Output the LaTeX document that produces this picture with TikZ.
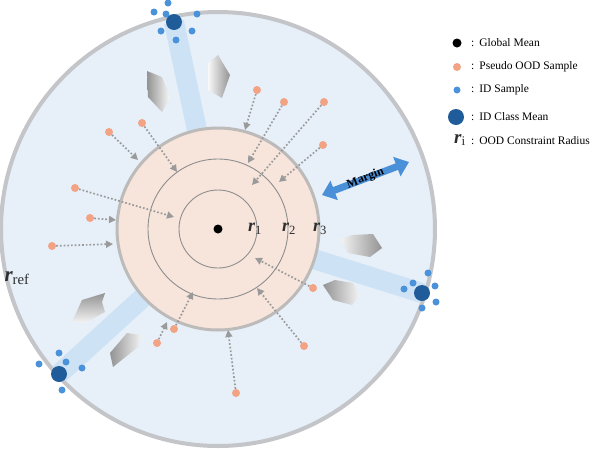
\documentclass[tikz,border=0pt]{standalone}
\usepackage{fontspec}
\setmainfont{Liberation Serif}
\usepackage{tikz}
\usetikzlibrary{arrows.meta, positioning, calc}
\definecolor{outerfill}{HTML}{E7EFF9}
\definecolor{outerline}{HTML}{C3C5C8}
\definecolor{innerfill}{HTML}{F7E5DC}
\definecolor{innerline}{HTML}{BDBBBA}
\definecolor{ringgray}{HTML}{8E8E8E}
\definecolor{oodorange}{HTML}{F2A383}
\definecolor{idblue}{HTML}{4A93DB}
\definecolor{meanblue}{HTML}{1F5C99}
\definecolor{beamblue}{HTML}{BCDCF3}
\definecolor{arrowgray}{HTML}{9A9A9A}
\definecolor{labelgray}{HTML}{2E2E2E}
\definecolor{marginblue}{HTML}{4A90D9}
\tikzstyle{ood} = [circle, fill=oodorange, inner sep=0pt, minimum size=8pt]
\tikzstyle{idsample} = [circle, fill=idblue, inner sep=0pt, minimum size=7pt]
\tikzstyle{idmean} = [circle, fill=meanblue, inner sep=0pt, minimum size=16pt]
\tikzstyle{gmean} = [circle, fill=black, inner sep=0pt, minimum size=9pt]
\tikzstyle{pull} = [arrowgray, dotted, line width=1.7pt, -{Triangle[length=7pt, width=7pt]}]
\tikzstyle{beam} = [beamblue, line width=20pt, opacity=0.6]
\tikzstyle{ring} = [ringgray, line width=0.9pt]
\tikzstyle{legendtext} = [anchor=west, inner sep=0pt, font=\fontsize{11.5}{13}\selectfont]
\tikzstyle{radlabel} = [text=labelgray, inner sep=0pt, font=\fontsize{18}{18}\selectfont\bfseries\itshape]

\begin{document}
\begin{tikzpicture}[x=1pt, y=-1pt]
    \fill[white] (0,0) rectangle (598,448);
    \useasboundingbox (0,0) rectangle (598,448);

    \coordinate (c) at (218,229);
    \fill[outerfill] (c) circle[radius=217pt];
    \draw[outerline, line width=4pt] (c) circle[radius=217pt];

    \coordinate (m1) at (174,22);
    \coordinate (m2) at (422,293);
    \coordinate (m3) at (59,374);
    \foreach \m in {m1,m2,m3} \draw[beam] (\m) -- (c);

    \draw[innerline, fill=innerfill, line width=3pt] (c) circle[radius=101pt];
    \draw[ring] (c) circle[radius=70pt];
    \draw[ring] (c) circle[radius=39pt];

    % push arrows
    \shade[left color=gray!85, right color=gray!5] (147,71) -- (162,77) -- (170,97) -- (162,112) -- (148,97) -- cycle;
    \shade[left color=gray!5, right color=gray!85] (208,63) -- (218,55) -- (230,75) -- (222,98) -- (208,90) -- cycle;
    \shade[top color=gray!85, bottom color=gray!8] (72,322) -- (82,300) -- (105,293) -- (102,302) -- (105,312) -- (85,323) -- cycle;
    \shade[left color=gray!85, right color=gray!8] (110,353) -- (127,333) -- (142,335) -- (138,347) -- (113,367) -- cycle;
    \shade[left color=gray!8, right color=gray!85] (340,239) -- (353,235) -- (373,234) -- (382,248) -- (370,257) -- (348,253) -- cycle;
    \shade[left color=gray!85, right color=gray!8] (323,285) -- (335,280) -- (353,283) -- (360,295) -- (352,305) -- (333,300) -- cycle;

    \node[radlabel] (r1) at (255,229) {r\textsubscript{\mdseries\upshape 1}};
    \node[radlabel] (r2) at (289,229) {r\textsubscript{\mdseries\upshape 2}};
    \node[radlabel] (r3) at (320,229) {r\textsubscript{\mdseries\upshape 3}};
    \node[radlabel, font=\fontsize{21}{21}\selectfont\bfseries\itshape] (rref) at (17,278) {r\textsubscript{\mdseries\upshape ref}};

    \foreach \i/\px/\py/\tx/\ty in {1/109/132/138/160, 2/142/123/177/172, 3/75/188/174/217, 4/90/218/116/220, 5/52/246/113/244, 6/257/90/245/130, 7/284/102/248/163, 8/324/102/252/185, 9/323/145/279/182, 10/313/288/255/258, 11/304/346/257/288, 12/236/393/228/330, 13/174/329/193/292, 14/157/343/167/322} {
        \node[ood] (o\i) at (\px,\py) {};
        \coordinate (t\i) at (\tx,\ty);
        \draw[pull] (o\i) -- (t\i);
    }

    \node[gmean] (gm) at (c) {};

    \coordinate (ma) at (322,195);
    \coordinate (mb) at (409,162);
    \draw[marginblue, line width=7pt, {Triangle[length=13pt, width=20pt]}-{Triangle[length=13pt, width=20pt]}] (ma) -- (mb);
    \node[rotate=20.8, inner sep=0pt, font=\fontsize{12}{12}\selectfont\bfseries] (margin) at ($(ma)!0.5!(mb)$) {Margin};

    \node[idmean] (mean1) at (m1) {};
    \foreach \x/\y [count=\k] in {168/3, 154/12, 166/14, 197/14, 161/31, 192/31, 176/40}
        \node[idsample] (s1-\k) at (\x,\y) {};
    \node[idmean] (mean2) at (m2) {};
    \foreach \x/\y [count=\k] in {428/273, 413/283, 404/289, 435/286, 436/302, 422/308}
        \node[idsample] (s2-\k) at (\x,\y) {};
    \node[idmean] (mean3) at (m3) {};
    \foreach \x/\y [count=\k] in {59/353, 39/364, 66/362, 82/368, 62/390}
        \node[idsample] (s3-\k) at (\x,\y) {};

    \node[gmean] (lgm) at (457,43) {};
    \node[legendtext] (tgm) at (471,43) {:\hspace{5pt}Global Mean};
    \node[ood] (lood) at (457,67) {};
    \node[legendtext] (tood) at (471,67) {:\hspace{5pt}Pseudo OOD Sample};
    \node[idsample] (lid) at (457,90) {};
    \node[legendtext] (tid) at (471,90) {:\hspace{5pt}ID Sample};
    \node[idmean] (lmean) at (456,117) {};
    \node[legendtext] (tmean) at (471,117) {:\hspace{5pt}ID Class Mean};
    \node[radlabel, font=\fontsize{19}{19}\selectfont\bfseries\itshape] (lr) at (460,140) {r\textsubscript{\mdseries\upshape i}};
    \node[legendtext] (tr) at (471,141) {:\hspace{5pt}OOD Constraint Radius};
\end{tikzpicture}
\end{document}
